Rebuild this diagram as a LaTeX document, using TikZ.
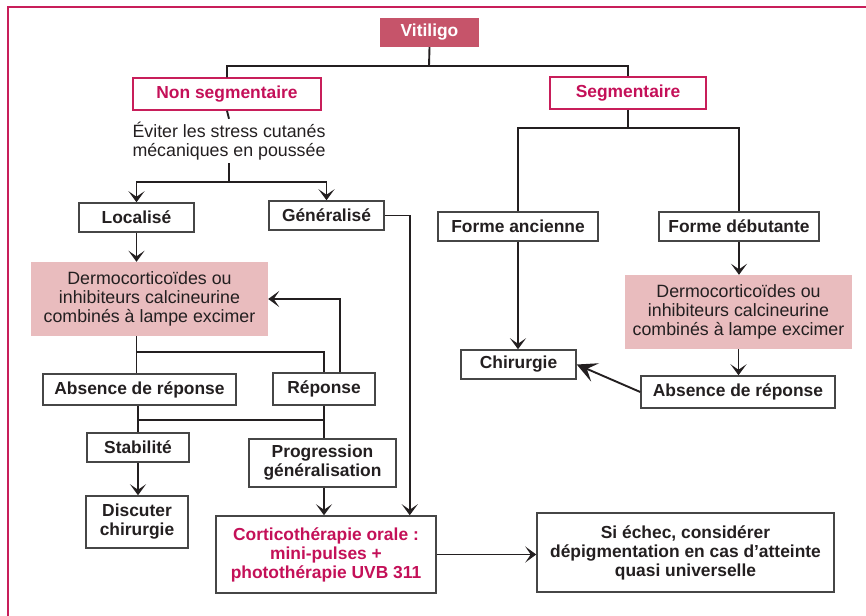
\documentclass[tikz,border=0pt]{standalone}
\usepackage{fontspec}
\setmainfont{Liberation Sans}
\usepackage{tikz}
\usetikzlibrary{arrows.meta,positioning,calc}
\usepackage{xcolor}
\definecolor{framered}{RGB}{200,30,90}
\definecolor{vitfill}{RGB}{198,84,106}
\definecolor{pinkfill}{RGB}{233,188,190}
\definecolor{textred}{RGB}{196,16,88}
\definecolor{boxgray}{RGB}{70,70,70}
\definecolor{inkblack}{RGB}{35,31,32}

\begin{document}
\begin{tikzpicture}[
    x=1pt, y=-1pt,
    base/.style={rectangle, inner sep=0pt, align=center, text=inkblack,
        font=\fontsize{17.4}{19}\selectfont\bfseries},
    titlebox/.style={base, fill=vitfill, text=white},
    catbox/.style={base, draw=framered, line width=1.4pt, text=textred},
    stepbox/.style={base, draw=boxgray, fill=white, line width=1.5pt},
    treatbox/.style={base, fill=pinkfill, font=\fontsize{17.8}{19}\selectfont},
    note/.style={base, font=\fontsize{17.8}{19}\selectfont},
    link/.style={draw=inkblack, line width=1.9pt},
    arrow/.style={link, -{Stealth[length=11pt, width=16pt, inset=5.5pt]}},
    bigarrow/.style={link, -{Stealth[length=20pt, width=20pt, inset=9pt]}}
]
    \useasboundingbox (0,0) rectangle (866,615);
    \draw[framered, line width=1.6pt] (8,620) -- (8,7) -- (870,7);

    \node[titlebox, minimum width=99pt, minimum height=29pt] (vit) at (429.5,32.5) {Vitiligo};
    \node[catbox, minimum width=188pt, minimum height=32pt] (nonseg) at (227,94) {Non segmentaire};
    \node[catbox, minimum width=156pt, minimum height=32pt] (seg) at (628,93) {Segmentaire};
    \node[note, minimum height=44pt] (advice) at (229,141) {Éviter les stress cutanés\\mécaniques en poussée};

    \node[stepbox, minimum width=115pt, minimum height=29pt] (loc) at (136.5,217.5) {Localisé};
    \node[stepbox, minimum width=115pt, minimum height=29pt] (gen) at (326.5,215.5) {Généralisé};
    \node[treatbox, minimum width=237pt, minimum height=74pt] (dermL) at (149.5,299) {Dermocorticoïdes ou\\inhibiteurs calcineurine\\combinés à lampe excimer};
    \node[stepbox, minimum width=193pt, minimum height=31pt] (absL) at (139.5,389.5) {Absence de réponse};
    \node[stepbox, minimum width=102pt, minimum height=32pt] (rep) at (324,389) {Réponse};
    \node[stepbox, minimum width=102pt, minimum height=29pt] (stab) at (138,447.5) {Stabilité};
    \node[stepbox, minimum width=102pt, minimum height=52pt] (disc) at (137,522) {Discuter\\chirurgie};
    \node[stepbox, minimum width=147pt, minimum height=48pt] (prog) at (322.5,463) {Progression\\généralisation};
    \node[stepbox, minimum width=220pt, minimum height=77pt, text=textred] (cort) at (326,554.5) {Corticothérapie orale :\\mini-pulses +\\photothérapie UVB 311};
    \node[stepbox, minimum width=297pt, minimum height=79pt] (echec) at (685.5,552.5) {Si échec, considérer\\dépigmentation en cas d’atteinte\\quasi universelle};

    \node[stepbox, minimum width=160pt, minimum height=29pt] (anc) at (518,226.5) {Forme ancienne};
    \node[stepbox, minimum width=160pt, minimum height=29pt] (deb) at (739,226.5) {Forme débutante};
    \node[stepbox, minimum width=115pt, minimum height=29pt] (chir) at (518.5,364.5) {Chirurgie};
    \node[treatbox, minimum width=227pt, minimum height=74pt] (dermR) at (738.5,312) {Dermocorticoïdes ou\\inhibiteurs calcineurine\\combinés à lampe excimer};
    \node[stepbox, minimum width=194pt, minimum height=32pt] (absR) at (738,392) {Absence de réponse};

    \coordinate (jtop) at (429,66);
    \coordinate (jadv) at (229,182);
    \coordinate (jderm) at (137,352);
    \coordinate (jabs) at (138,420);
    \coordinate (jseg) at (628,128);

    \draw[link] (vit.south) -- (jtop) -| (nonseg.north);
    \draw[link] (jtop) -| (seg.north);
    \draw[link] (nonseg.south) -- (advice.north);
    \draw[link] (advice.south) -- (jadv);
    \draw[arrow] (jadv) -| (loc.north);
    \draw[arrow] (jadv) -| (gen.north);
    \draw[arrow] (gen.east) -| ([xshift=-27pt]cort.north east);
    \draw[arrow] (loc.south) -- (loc.south |- dermL.north);
    \draw[link] (loc.south |- dermL.south) -- (loc.south |- absL.north);
    \draw[link] (jderm) -| (rep.north);
    \draw[arrow] ([xshift=16pt]rep.north) |- (dermL.east);
    \draw[link] (absL.south -| stab.north) -- (stab.north);
    \draw[link] (jabs) -| (rep.south);
    \draw[link] (rep.south) -- (rep.south |- prog.north);
    \draw[arrow] (stab.south) -- (stab.south |- disc.north);
    \draw[arrow] (rep.south |- prog.south) -- (rep.south |- cort.north);
    \draw[arrow] (cort.east) -- (cort.east -| echec.west);

    \draw[link] (seg.south) -- (jseg);
    \draw[link] (jseg) -| (anc.north);
    \draw[link] (jseg) -| (deb.north);
    \draw[arrow] (anc.south) -- (anc.south |- chir.north);
    \draw[arrow] (deb.south) -- (deb.south |- dermR.north);
    \draw[arrow] (dermR.south) -- (dermR.south |- absR.north);
    \draw[bigarrow] (absR.west) -- (chir.east);
\end{tikzpicture}
\end{document}
